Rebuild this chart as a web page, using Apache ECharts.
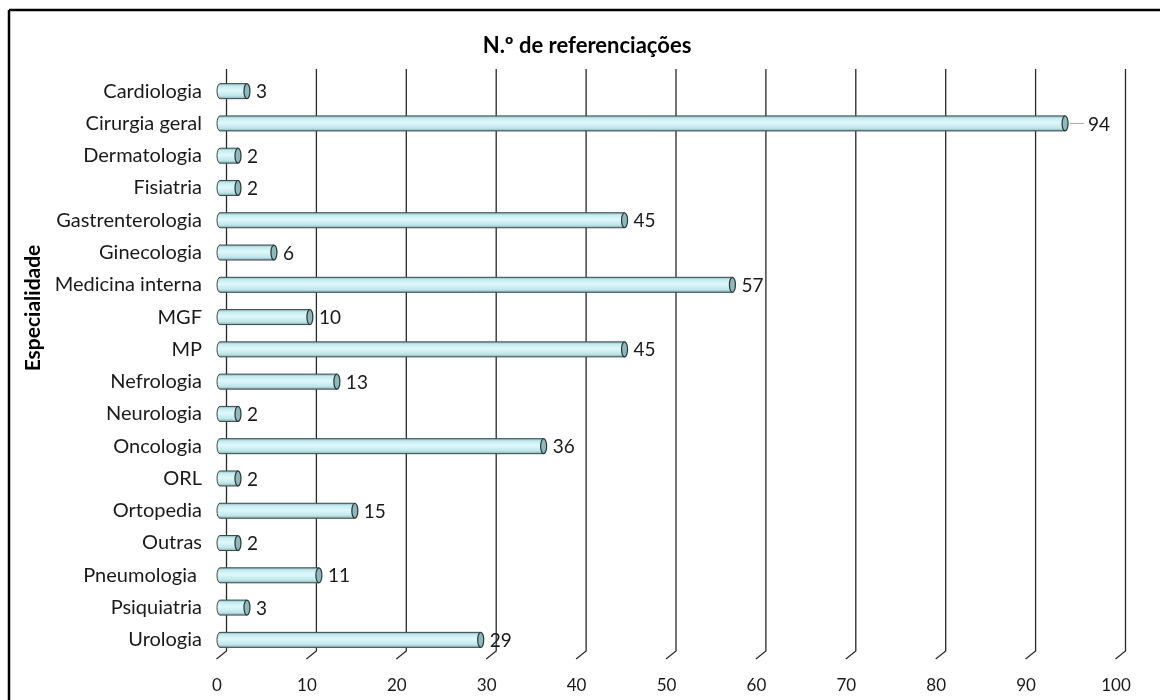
<!DOCTYPE html>
<html>
<head>
<meta charset="utf-8">
<script src="https://cdn.jsdelivr.net/npm/echarts@6/dist/echarts.min.js"></script>
<style>
  html, body { margin: 0; padding: 0; background: #fff; }
  #chart { width: 1160px; height: 700px; }
</style>
</head>
<body>
<div id="chart"></div>
<script>
// Referrals per specialty
const categories = [
  'Cardiologia', 'Cirurgia geral', 'Dermatologia', 'Fisiatria', 'Gastrenterologia',
  'Ginecologia', 'Medicina interna', 'MGF', 'MP', 'Nefrologia', 'Neurologia',
  'Oncologia', 'ORL', 'Ortopedia', 'Outras', 'Pneumologia ', 'Psiquiatria', 'Urologia'
];
const referrals = [3, 94, 2, 2, 45, 6, 57, 10, 45, 13, 2, 36, 2, 15, 2, 11, 3, 29];
const tickValues = [0, 10, 20, 30, 40, 50, 60, 70, 80, 90, 100];
const titleText = 'N.º de referenciações';
const axisTitle = 'Especialidade';

const FONT = 'Lato, "Open Sans", sans-serif';
const chart = echarts.init(document.getElementById('chart'), null, { renderer: 'canvas' });

// Gridlines on the back wall, with a slanted foot down to the floor edge
function renderGrid(params, api) {
  const cs = params.coordSys;
  const p = api.coord([api.value(0), 0]);
  const xb = p[0] + 6.5;
  const top = cs.y - 6;
  const bottom = cs.y + cs.height - 5;
  return {
    type: 'polyline',
    shape: { points: [[xb, top], [xb, bottom], [xb - 10, bottom + 8]] },
    style: { stroke: '#2a2a2a', lineWidth: 1.3, fill: null },
    silent: true
  };
}

// Horizontal cylinder with an end cap and its value label
function renderCylinder(params, api) {
  const v = api.value(0);
  const idx = api.value(1);
  const p0 = api.coord([0, idx]);
  const p1 = api.coord([v, idx]);
  const h = 15;
  const rx = 3;
  const x0 = p0[0], x1 = p1[0], yc = p0[1];
  const t = yc - h / 2, b = yc + h / 2;
  const body = 'M' + x0 + ' ' + t + ' L' + x1 + ' ' + t +
    ' L' + x1 + ' ' + b + ' L' + x0 + ' ' + b +
    ' A' + rx + ' ' + (h / 2) + ' 0 0 1 ' + x0 + ' ' + t + ' Z';
  const grad = new echarts.graphic.LinearGradient(0, 0, 0, 1, [
    { offset: 0, color: '#7fa9ad' },
    { offset: 0.18, color: '#c4ecf0' },
    { offset: 0.45, color: '#dff8fb' },
    { offset: 0.8, color: '#bfe6ea' },
    { offset: 1, color: '#7b9fa3' }
  ]);
  const children = [
    {
      type: 'path',
      shape: { pathData: body },
      style: { fill: grad, stroke: '#3a4a4c', lineWidth: 1 }
    },
    {
      type: 'ellipse',
      shape: { cx: x1, cy: yc, rx: rx, ry: h / 2 },
      style: { fill: '#8db9bd', stroke: '#2b3536', lineWidth: 1.2 }
    }
  ];
  let tx = x1 + rx + 6;
  if (v > 90) {
    children.push({
      type: 'line',
      shape: { x1: x1 + rx + 2, y1: yc, x2: x1 + rx + 16, y2: yc },
      style: { stroke: '#a6a6a6', lineWidth: 1 }
    });
    tx = x1 + rx + 20;
  }
  children.push({
    type: 'text',
    style: {
      text: String(v), x: tx, y: yc + 1,
      fill: '#1a1a1a', font: '19px ' + FONT,
      align: 'left', verticalAlign: 'middle'
    }
  });
  return { type: 'group', children: children };
}

chart.setOption({
  animation: false,
  backgroundColor: '#ffffff',
  title: {
    text: titleText,
    left: 582, top: 30, textAlign: 'center',
    textStyle: { fontFamily: FONT, fontWeight: 'bold', fontSize: 22, color: '#000' }
  },
  grid: { left: 220, right: 41, top: 75, bottom: 44 },
  xAxis: {
    type: 'value', min: 0, max: 100, interval: 10,
    axisLine: { show: false }, axisTick: { show: false },
    splitLine: { show: false },
    axisLabel: { margin: 21, fontFamily: FONT, fontSize: 17, color: '#1a1a1a', padding: [0, 6, 0, 0] }
  },
  yAxis: {
    type: 'category', data: categories, inverse: true,
    axisLine: { show: false }, axisTick: { show: false }, splitLine: { show: false },
    axisLabel: { margin: 18, fontFamily: FONT, fontSize: 20, color: '#1a1a1a' }
  },
  series: [
    {
      type: 'custom', name: 'grid', renderItem: renderGrid,
      data: tickValues.map(v => [v]), encode: { x: 0 }, z: 1, silent: true
    },
    {
      type: 'custom', name: 'Referenciações', renderItem: renderCylinder,
      data: referrals.map((v, i) => [v, i]), encode: { x: 0, y: 1 }, z: 5
    }
  ],
  graphic: [
    {
      type: 'text', x: 33, y: 308, rotation: Math.PI / 2,
      style: {
        text: axisTitle, font: 'bold 21px ' + FONT, fill: '#000',
        align: 'center', verticalAlign: 'middle'
      }
    },
    { type: 'line', shape: { x1: 9, y1: 10, x2: 1160, y2: 10 }, style: { stroke: '#000', lineWidth: 2.5 } },
    { type: 'line', shape: { x1: 9, y1: 10, x2: 9, y2: 700 }, style: { stroke: '#000', lineWidth: 2.5 } }
  ]
});
</script>
</body>
</html>
